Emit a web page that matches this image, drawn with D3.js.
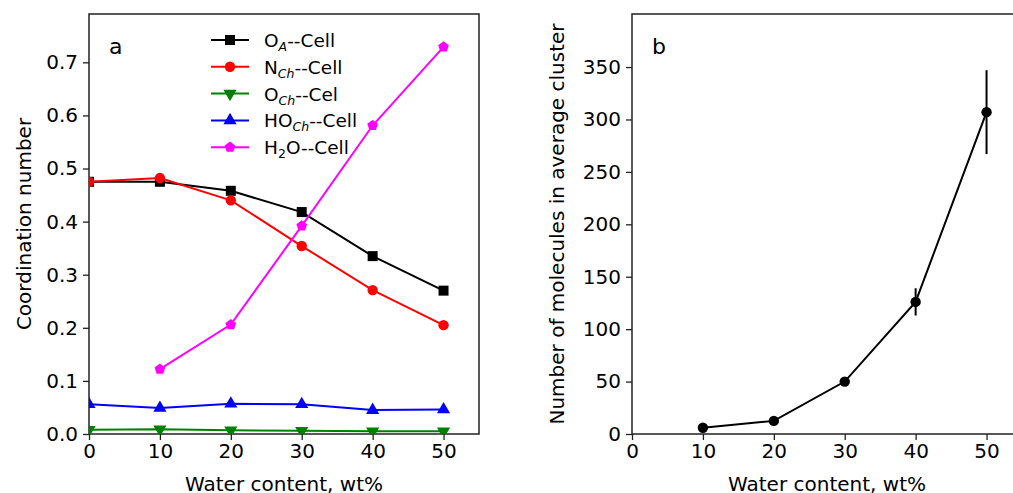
<!DOCTYPE html>
<html>
<head>
<meta charset="utf-8">
<script src="https://cdn.jsdelivr.net/npm/d3@7"></script>
<style>
  body { margin: 0; background: #fff; }
  svg text { font-family: "DejaVu Sans", sans-serif; fill: #000; }
</style>
</head>
<body>
<div id="chart"></div>
<script>
// data
var water = [0, 10, 20, 30, 40, 50];
var oA = [0.475, 0.475, 0.458, 0.418, 0.335, 0.270];
var nCh = [0.475, 0.482, 0.440, 0.354, 0.271, 0.205];
var oCh = [0.008, 0.009, 0.007, 0.006, 0.005, 0.005];
var hoCh = [0.056, 0.049, 0.057, 0.056, 0.045, 0.046];
var h2o = [null, 0.122, 0.206, 0.392, 0.581, 0.729];

var clusterX = [10, 20, 30, 40, 50];
var clusterSize = [6, 12.5, 50, 126, 307];
var clusterErr = [0, 0, 0, 13, 40];

var xTicks = [0, 10, 20, 30, 40, 50];
var yTicksA = [0, 0.1, 0.2, 0.3, 0.4, 0.5, 0.6, 0.7];
var yTicksB = [0, 50, 100, 150, 200, 250, 300, 350];

var series = [
  { name: "O", sub: "A", rest: "--Cell", vals: oA, color: "#000000", marker: "square" },
  { name: "N", sub: "Ch", rest: "--Cell", vals: nCh, color: "#ff0000", marker: "circle" },
  { name: "O", sub: "Ch", rest: "--Cel", vals: oCh, color: "#008000", marker: "tridown" },
  { name: "HO", sub: "Ch", rest: "--Cell", vals: hoCh, color: "#0000ff", marker: "triup" },
  { name: "H", sub: "2", rest: "O--Cell", vals: h2o, color: "#ff00ff", marker: "pentagon" }
];

var W = 1013, H = 493;
var svg = d3.select("#chart").append("svg")
    .attr("width", W)
    .attr("height", H);

var plotTop = 14, plotBottom = 434;
var fs = 20;

function markerPath(type) {
  var s;
  if (type == "square") s = d3.symbol(d3.symbolSquare, 100);
  else if (type == "circle") s = d3.symbol(d3.symbolCircle, 85);
  else if (type == "triup" || type == "tridown") s = d3.symbol(d3.symbolTriangle, 75);
  else if (type == "pentagon") {
    // regular pentagon
    var r = 5.6, pts = [];
    for (var i = 0; i < 5; i++) {
      var a = -Math.PI / 2 + i * 2 * Math.PI / 5;
      pts.push([r * Math.cos(a), r * Math.sin(a)]);
    }
    return "M" + pts.join("L") + "Z";
  }
  return s();
}

function panel(left, right, ymax, clipId) {
  var x = d3.scaleLinear().domain([0, 55]).range([left, right]);
  var y = d3.scaleLinear().domain([0, ymax]).range([plotBottom, plotTop]);
  svg.append("clipPath").attr("id", clipId)
    .append("rect")
    .attr("x", left).attr("y", plotTop)
    .attr("width", right - left).attr("height", plotBottom - plotTop);
  return { x: x, y: y };
}

function drawAxes(p, yTicks, yFmt, ylabel, letter, left, right, labelOffset, xlabelX) {
  var g = svg.append("g").attr("class", "axes");
  var xa = g.append("g")
    .attr("transform", "translate(0," + plotBottom + ")")
    .call(d3.axisBottom(p.x).tickValues(xTicks).tickSize(6).tickPadding(4).tickFormat(d3.format("d")));
  var ya = g.append("g")
    .attr("transform", "translate(" + left + ",0)")
    .call(d3.axisLeft(p.y).tickValues(yTicks).tickSize(6).tickPadding(5).tickFormat(yFmt));
  [xa, ya].forEach(function (a) {
    a.select(".domain").remove();
    a.selectAll("line").attr("stroke", "#222").attr("stroke-width", 1.3);
    a.selectAll("text").style("font-size", fs + "px").attr("fill", "#222");
  });
  // frame
  g.append("rect")
    .attr("x", left).attr("y", plotTop)
    .attr("width", right - left).attr("height", plotBottom - plotTop)
    .attr("fill", "none").attr("stroke", "#222").attr("stroke-width", 1.5);

  g.append("text")
    .attr("x", xlabelX)
    .attr("y", plotBottom + 57)
    .attr("text-anchor", "middle")
    .style("font-size", fs + "px")
    .attr("fill", "#222")
    .text("Water content, wt%");

  g.append("text")
    .attr("transform", "translate(" + (left - labelOffset) + "," + ((plotTop + plotBottom) / 2) + ") rotate(-90)")
    .attr("text-anchor", "middle")
    .style("font-size", fs + "px")
    .attr("fill", "#222")
    .text(ylabel);

  g.append("text")
    .attr("x", left + 20).attr("y", plotTop + 40)
    .style("font-size", "22px")
    .text(letter);
}

// panel a
var pa = panel(89, 479, 0.791, "clipA");
drawAxes(pa, yTicksA, d3.format(".1f"), "Coordination number", "a", 89, 479, 58, 284);

var lineA = d3.line()
  .defined(function (d) { return d[1] != null; })
  .x(function (d) { return pa.x(d[0]); })
  .y(function (d) { return pa.y(d[1]); });

var plotA = svg.append("g").attr("clip-path", "url(#clipA)");
series.forEach(function (s) {
  var pts = water.map(function (w, i) { return [w, s.vals[i]]; });
  plotA.append("path")
    .attr("d", lineA(pts))
    .attr("fill", "none")
    .attr("stroke", s.color)
    .attr("stroke-width", 2);
  plotA.selectAll(null)
    .data(pts.filter(function (d) { return d[1] != null; }))
    .enter()
    .append("path")
    .attr("d", markerPath(s.marker))
    .attr("transform", function (d) {
      return "translate(" + pa.x(d[0]) + "," + pa.y(d[1]) + ")" + (s.marker == "tridown" ? " rotate(180)" : "");
    })
    .attr("fill", s.color);
});

// legend
var legend = svg.append("g").attr("transform", "translate(211,40)");
series.forEach(function (s, i) {
  var row = legend.append("g").attr("transform", "translate(0," + (i * 26.8) + ")");
  row.append("line")
    .attr("x1", 0).attr("x2", 38)
    .attr("stroke", s.color).attr("stroke-width", 2);
  row.append("path")
    .attr("d", markerPath(s.marker))
    .attr("transform", "translate(19,0)" + (s.marker == "tridown" ? " rotate(180)" : ""))
    .attr("fill", s.color);
  var t = row.append("text")
    .attr("x", 53).attr("y", 7)
    .style("font-size", "18.5px");
  t.append("tspan").text(s.name);
  t.append("tspan")
    .attr("dy", 4)
    .style("font-size", "12.5px")
    .style("font-style", s.sub == "2" ? "normal" : "italic")
    .text(s.sub);
  t.append("tspan")
    .attr("dy", -4)
    .text(s.rest);
});

// panel b
var pb = panel(632, 1022, 400.6, "clipB");
drawAxes(pb, yTicksB, d3.format("d"), "Number of molecules in average cluster", "b", 632, 1022, 68, 827);

var lineB = d3.line()
  .x(function (d) { return pb.x(d.x); })
  .y(function (d) { return pb.y(d.v); });
var bData = clusterX.map(function (w, i) { return { x: w, v: clusterSize[i], e: clusterErr[i] }; });

var plotB = svg.append("g").attr("clip-path", "url(#clipB)");
plotB.append("path")
  .attr("d", lineB(bData))
  .attr("fill", "none")
  .attr("stroke", "#000")
  .attr("stroke-width", 2);
plotB.selectAll(".err")
  .data(bData.filter(function (d) { return d.e > 0; }))
  .enter()
  .append("line")
  .attr("class", "err")
  .attr("x1", function (d) { return pb.x(d.x); })
  .attr("x2", function (d) { return pb.x(d.x); })
  .attr("y1", function (d) { return pb.y(d.v - d.e); })
  .attr("y2", function (d) { return pb.y(d.v + d.e); })
  .attr("stroke", "#000")
  .attr("stroke-width", 2);
plotB.selectAll(".pt")
  .data(bData)
  .enter()
  .append("circle")
  .attr("class", "pt")
  .attr("cx", function (d) { return pb.x(d.x); })
  .attr("cy", function (d) { return pb.y(d.v); })
  .attr("r", 5.2)
  .attr("fill", "#000");
</script>
</body>
</html>
